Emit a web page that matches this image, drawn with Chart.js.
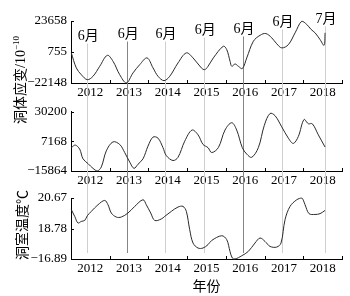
<!DOCTYPE html>
<html>
<head>
<meta charset="utf-8">
<script src="https://cdn.jsdelivr.net/npm/chart.js@4"></script>
<style>
  body { margin: 0; background: #fff; }
  #wrap { position: relative; width: 350px; height: 296px; background: #fff; overflow: hidden; }
  #wrap canvas { position: absolute; left: 0; }
  .ytitle { position: absolute; white-space: nowrap; font-family: "Liberation Serif", "Noto Sans CJK SC", serif; font-size: 14px; color: #000;
            transform: translate(-50%, -50%) rotate(-90deg); }
  .ytitle sup { font-size: 9px; }
</style>
</head>
<body>
<div id="wrap">
  <canvas id="c1" width="350" height="100" style="top:0"></canvas>
  <canvas id="c2" width="350" height="90" style="top:100px"></canvas>
  <canvas id="c3" width="350" height="110" style="top:186px"></canvas>
  <div class="ytitle" style="left:19px; top:80px">洞体应变/10<sup>−10</sup></div>
  <div class="ytitle" style="left:21px; top:225px">洞室温度℃</div>
</div>
<script>
const years = [2012, 2013, 2014, 2015, 2016, 2017, 2018];
const yearEdges = [2012, 2013, 2014, 2015, 2016, 2017, 2018, 2019];

// monthly markers (vertical lines)
const markerDates = [2012.42, 2013.45, 2014.43, 2015.44, 2016.44, 2017.45, 2018.56];
const markerLabels = ['6月', '6月', '6月', '6月', '6月', '6月', '7月'];
const markerLabelValues = [12200, 13600, 13600, 16600, 17400, 22500, 24800];
const markerDark = [false, true, false, false, true, false, false];

// upper strain series
const strainADates = [2012.008, 2012.137, 2012.266, 2012.421, 2012.568, 2012.742, 2012.938, 2013.085, 2013.258, 2013.429,
  2013.602, 2013.775, 2013.964, 2014.119, 2014.248, 2014.403, 2014.550, 2014.765, 2014.979, 2015.152,
  2015.367, 2015.455, 2015.540, 2015.677, 2015.935, 2016.023, 2016.109, 2016.152, 2016.238, 2016.323,
  2016.426, 2016.540, 2016.711, 2016.884, 2017.031, 2017.186, 2017.315, 2017.444, 2017.615, 2017.788,
  2017.961, 2018.090, 2018.202, 2018.305, 2018.434, 2018.537, 2018.563];
const strainAValues = [100, -11000, -16000, -19700, -17200, -9800, -1700, -6100, -16000, -22100,
  -14700, -8600, -3600, -11000, -17200, -20400, -17200, -7300, 100, -3600,
  -11000, -12300, -9800, -3600, 5000, 2500, -6100, -9800, -8100, -9800,
  -11500, -3600, 8700, 13100, 14400, 11200, 6800, 3800, 6200, 14900,
  23500, 21100, 17400, 14900, 9900, 5700, 14900];

// lower strain series
const strainBDates = [2012.008, 2012.111, 2012.225, 2012.310, 2012.439, 2012.568, 2012.679, 2012.783, 2012.912, 2013.085,
  2013.258, 2013.387, 2013.516, 2013.627, 2013.731, 2013.860, 2013.989, 2014.118, 2014.247, 2014.376,
  2014.462, 2014.635, 2014.764, 2014.937, 2015.126, 2015.281, 2015.410, 2015.539, 2015.634, 2015.805,
  2015.978, 2016.151, 2016.280, 2016.425, 2016.539, 2016.668, 2016.839, 2016.994, 2017.141, 2017.270,
  2017.443, 2017.614, 2017.743, 2017.872, 2018.019, 2018.130, 2018.233, 2018.388, 2018.562];
const strainBValues = [2300, 4300, 1100, -6400, -10100, -13800, -15800, -12700, -200, 6800,
  4800, -1500, -8900, -13800, -10600, -6400, 3500, 10500, 9700, 2300,
  -3900, -7700, -5200, 7300, 16000, 12300, 4800, 2300, -1500, 2300,
  16000, 21700, 16000, 2300, -2700, -5200, 2300, 19700, 28900, 27200,
  18500, 9700, 5600, 11000, 24200, 20900, 20900, 12300, 2800];

// cave temperature series
const tempDates = [2012.008, 2012.096, 2012.181, 2012.266, 2012.354, 2012.421, 2012.524, 2012.697, 2012.871, 2012.956,
  2013.041, 2013.170, 2013.299, 2013.472, 2013.646, 2013.860, 2013.945, 2014.059, 2014.162, 2014.333,
  2014.421, 2014.591, 2014.764, 2014.893, 2014.979, 2015.066, 2015.152, 2015.281, 2015.410, 2015.539,
  2015.635, 2015.893, 2016.022, 2016.107, 2016.167, 2016.237, 2016.410, 2016.580, 2016.753, 2016.882,
  2017.011, 2017.141, 2017.314, 2017.425, 2017.529, 2017.658, 2017.831, 2017.960, 2018.046, 2018.149,
  2018.304, 2018.433, 2018.562];
const tempValues = [19.95, 19.53, 19.12, 19.22, 19.28, 19.57, 19.84, 20.25, 20.52, 20.25,
  19.74, 19.49, 19.49, 19.74, 20.15, 20.56, 20.25, 19.74, 19.28, 19.37,
  19.53, 19.84, 20.11, 20.15, 19.84, 18.71, 17.88, 17.57, 17.57, 17.78,
  18.04, 18.33, 18.09, 17.36, 16.95, 16.89, 17.09, 17.36, 17.88, 18.19,
  17.98, 17.67, 17.63, 17.88, 19.33, 20.15, 20.56, 20.67, 20.25, 19.70,
  19.65, 19.70, 19.90];

const strainATicks = [-22148, 755, 23658];
const strainATickLabels = ['−22148', '755', '23658'];
const strainBTicks = [-15864, 7168, 30200];
const strainBTickLabels = ['−15864', '7168', '30200'];
const tempTicks = [16.89, 18.78, 20.67];
const tempTickLabels = ['−16.89', '18.78', '20.67'];

const FONT = '"Liberation Serif", "Noto Sans CJK SC", serif';

const markers = {
  id: 'markers',
  beforeDatasetsDraw(chart, args, opts) {
    const { ctx, scales: { x, y }, chartArea } = chart;
    ctx.save();
    ctx.lineWidth = 1;
    markerDates.forEach((d, i) => {
      const px = Math.round(x.getPixelForValue(d)) + 0.5;
      let top = 0;
      if (opts.labels) top = y.getPixelForValue(markerLabelValues[i]) + 7;
      const bottom = opts.toAxis ? chartArea.bottom - 6 : chart.height;
      ctx.strokeStyle = markerDark[i] ? '#858585' : '#cfcfcf';
      ctx.beginPath();
      ctx.moveTo(px, top);
      ctx.lineTo(px, bottom);
      ctx.stroke();
    });
    ctx.restore();
  },
  afterDraw(chart, args, opts) {
    const { ctx, scales: { x, y }, chartArea } = chart;
    ctx.save();
    ctx.strokeStyle = '#000';
    ctx.lineWidth = 1;
    ctx.beginPath();
    yearEdges.forEach(v => {
      const px = Math.round(x.getPixelForValue(v)) + 0.5;
      ctx.moveTo(px, chartArea.bottom);
      ctx.lineTo(px, chartArea.bottom - 3);
    });
    y.ticks.forEach(t => {
      const py = Math.round(y.getPixelForValue(t.value)) + 0.5;
      ctx.moveTo(chartArea.left, py);
      ctx.lineTo(chartArea.left + 3, py);
    });
    ctx.stroke();
    if (opts.labels) {
      ctx.fillStyle = '#000';
      ctx.font = '14px ' + FONT;
      ctx.textAlign = 'center';
      ctx.textBaseline = 'middle';
      markerDates.forEach((d, i) => {
        ctx.fillText(markerLabels[i], x.getPixelForValue(d) + 1, y.getPixelForValue(markerLabelValues[i]));
      });
    }
    ctx.restore();
  }
};

function makePanel(id, dates, values, ticks, tickLabels, cfg) {
  new Chart(document.getElementById(id), {
    type: 'line',
    data: {
      datasets: [{
        data: dates.map((d, i) => ({ x: d, y: values[i] })),
        borderColor: '#2a2a2a',
        borderWidth: 1,
        pointRadius: 0,
        tension: 0.35,
        fill: false,
        clip: false
      }]
    },
    options: {
      responsive: false,
      animation: false,
      devicePixelRatio: 1,
      layout: { padding: { top: cfg.top, right: 8, left: 0, bottom: 0 } },
      plugins: {
        legend: { display: false },
        tooltip: { enabled: false },
        markers: { labels: cfg.labels, toAxis: cfg.toAxis }
      },
      scales: {
        x: {
          type: 'linear',
          min: 2012,
          max: 2019,
          grid: { display: false, drawTicks: false },
          border: { display: true, color: '#000', width: 1 },
          afterBuildTicks: sc => { sc.ticks = years.map(v => ({ value: v + 0.5 })); },
          afterFit: sc => { sc.height = cfg.xh; },
          ticks: {
            autoSkip: false,
            maxRotation: 0,
            padding: 2,
            color: '#000',
            font: { family: FONT, size: 13 },
            callback: v => String(Math.floor(v))
          },
          title: cfg.xTitle ? {
            display: true, text: '年份', color: '#000', padding: { top: 0, bottom: 0 },
            font: { family: FONT, size: 14 }
          } : { display: false }
        },
        y: {
          min: ticks[0],
          max: ticks[2],
          grid: { display: false, drawTicks: false },
          border: { display: true, color: '#000', width: 1 },
          afterBuildTicks: sc => { sc.ticks = ticks.map(v => ({ value: v })); },
          afterFit: sc => { sc.width = 71; },
          ticks: {
            padding: 4,
            color: '#000',
            font: { family: FONT, size: 13 },
            callback: (v, i) => tickLabels[i]
          }
        }
      }
    },
    plugins: [markers]
  });
}

makePanel('c1', strainADates, strainAValues, strainATicks, strainATickLabels, { top: 21, xh: 17, labels: true, toAxis: false });
makePanel('c2', strainBDates, strainBValues, strainBTicks, strainBTickLabels, { top: 9, xh: 19, labels: false, toAxis: false });
makePanel('c3', tempDates, tempValues, tempTicks, tempTickLabels, { top: 12, xh: 37, labels: false, toAxis: true, xTitle: true });
</script>
</body>
</html>
